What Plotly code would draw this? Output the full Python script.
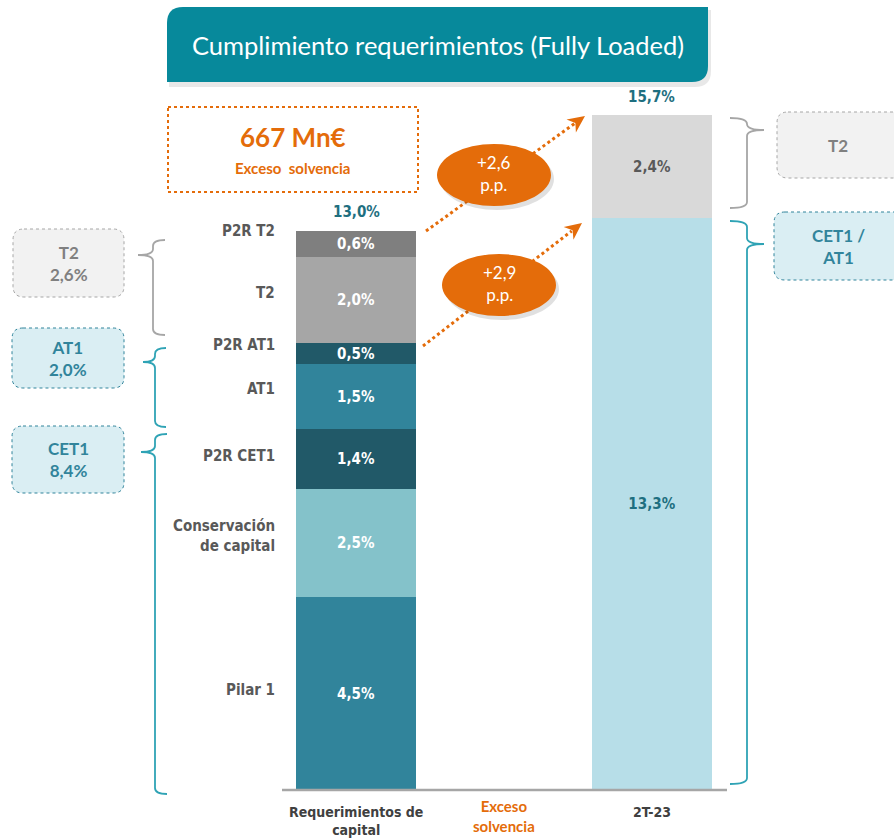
import math
import plotly.graph_objects as go

# ---------------- data ----------------
categories = ["Requerimientos de capital", "Exceso solvencia", "2T-23"]
category_ticks = ["Requerimientos de<br>capital", "Exceso<br>solvencia", "2T-23"]

req_labels = ["Pilar 1", "Conservación<br>de capital", "P2R CET1", "AT1", "P2R AT1", "T2", "P2R T2"]
req_values = [4.5, 2.5, 1.4, 1.5, 0.5, 2.0, 0.6]
req_total = 13.0

act_labels = ["CET1 / AT1", "T2"]
act_values = [13.3, 2.4]
act_total = 15.7

excess_amount = "667 Mn€"
excess_label = "Exceso  solvencia"
pp_changes = [2.6, 2.9]

left_groups = ["T2", "AT1", "CET1"]
left_group_values = [2.6, 2.0, 8.4]
right_groups = ["T2", "CET1 /<br>AT1"]

title_text = "Cumplimiento requerimientos (Fully Loaded)"

# ---------------- styles ----------------
W, H = 894, 838
NARROW = "Liberation Sans Narrow, Arial Narrow, DejaVu Sans Condensed, sans-serif"
CAL = "Lato, Open Sans, sans-serif"
ORANGE = "#E46C0A"
TEAL_TXT = "#1E6F80"
GRAY_TXT = "#595959"
req_colors = ["#31849B", "#84C2CA", "#215968", "#31849B", "#215968", "#A6A6A6", "#7F7F7F"]
act_colors = ["#B7DEE8", "#D9D9D9"]
act_text_colors = [TEAL_TXT, GRAY_TXT]
left_label_shift = [3, 7, 3, 8, 9, 7, 13]

PX_PER_UNIT = 43.0      # pixels per percentage point
BASE_PY = 790           # pixel row of the baseline
X0_PX = 356             # centre of first bar
X_STEP = 147.75         # pixels between categories


def X(px):
    return px / W


def Y(py):
    return 1 - py / H


def fmt(v):
    return f"{v:.1f}".replace(".", ",") + "%"


fig = go.Figure()

# requirement stack
for lab, val, col in zip(req_labels, req_values, req_colors):
    fig.add_trace(go.Bar(
        x=[categories[0]], y=[val], width=120 / X_STEP,
        marker=dict(color=col, line=dict(width=0)),
        text=[f"<b>{fmt(val)}</b>"], textposition="inside", insidetextanchor="middle",
        textfont=dict(color="white", size=15, family=NARROW), constraintext="none",
        hoverinfo="skip", showlegend=False, name=lab.replace("<br>", " ")))

# placeholder for middle category
fig.add_trace(go.Bar(x=[categories[1]], y=[0], width=0.8, marker=dict(color="rgba(0,0,0,0)"),
                     hoverinfo="skip", showlegend=False))

# actual stack
for lab, val, col, tc in zip(act_labels, act_values, act_colors, act_text_colors):
    fig.add_trace(go.Bar(
        x=[categories[2]], y=[val], width=120 / X_STEP,
        marker=dict(color=col, line=dict(width=0)),
        text=[f"<b>{fmt(val)}</b>"], textposition="inside", insidetextanchor="middle",
        textfont=dict(color=tc, size=15, family=NARROW), constraintext="none",
        hoverinfo="skip", showlegend=False, name=lab))

shapes = []
ann = []


def A(**kw):
    kw.setdefault("xanchor", "center")
    kw.setdefault("yanchor", "middle")
    kw.setdefault("showarrow", False)
    ann.append(kw)


# title box with shadow
def rounded_tl_br(x0, y0, x1, y1, r):
    return (f"M {X(x0)},{Y(y0 + r)} Q {X(x0)},{Y(y0)} {X(x0 + r)},{Y(y0)} "
            f"L {X(x1)},{Y(y0)} L {X(x1)},{Y(y1 - r)} Q {X(x1)},{Y(y1)} {X(x1 - r)},{Y(y1)} "
            f"L {X(x0)},{Y(y1)} Z")

shapes.append(dict(type="path", xref="paper", yref="paper",
                   path=rounded_tl_br(169, 10, 711, 87, 16),
                   fillcolor="rgba(0,0,0,0.09)", line=dict(width=0)))
shapes.append(dict(type="path", xref="paper", yref="paper",
                   path=rounded_tl_br(167, 7, 708, 82, 16),
                   fillcolor="#07899B", line=dict(width=0)))
A(x=X(438), y=Y(45), xref="paper", yref="paper", text=title_text,
  font=dict(family=CAL, size=25.5, color="white"))

# excess box
shapes.append(dict(type="rect", xref="paper", yref="paper", x0=X(168), x1=X(418), y0=Y(107), y1=Y(192),
                   line=dict(color=ORANGE, width=2, dash="dot"), fillcolor="white"))
A(x=X(293), y=Y(137), xref="paper", yref="paper", text=f"<b>{excess_amount}</b>",
  font=dict(family=CAL, size=26, color=ORANGE))
A(x=X(292), y=Y(168), xref="paper", yref="paper", text=f"<b>{excess_label}</b>",
  font=dict(family=CAL, size=15, color=ORANGE))

# baseline
shapes.append(dict(type="line", xref="paper", yref="y", x0=X(282), x1=X(727), y0=0, y1=0,
                   line=dict(color="#A6A6A6", width=2.5)))

# totals
A(x=categories[0], y=req_total, xref="x", yref="y", text=f"<b>{fmt(req_total)}</b>",
  yshift=19, font=dict(family=NARROW, size=15, color=TEAL_TXT))
A(x=categories[2], y=act_total, xref="x", yref="y", text=f"<b>{fmt(act_total)}</b>",
  yshift=18, font=dict(family=NARROW, size=15, color=TEAL_TXT))

# left segment labels
cum = 0
for lab, val, sh in zip(req_labels, req_values, left_label_shift):
    mid = cum + val / 2
    cum += val
    A(x=X(277), y=mid, xref="paper", yref="y", text=f"<b>{lab}</b>", xanchor="right",
      align="right", yshift=sh, font=dict(family=NARROW, size=15, color=GRAY_TXT))

# category labels
tick_py = [821, 816, 812]
tick_col = ["#404040", ORANGE, "#404040"]
tick_font = [NARROW, CAL, NARROW]
tick_size = [14, 15, 14]
for c, t, p, col, f, s in zip(categories, category_ticks, tick_py, tick_col, tick_font, tick_size):
    A(x=c, y=Y(p), xref="x", yref="paper", text=f"<b>{t}</b>",
      font=dict(family=f, size=s, color=col))

# braces
def brace(xv, top, bot, tip_y, tip_x, hook_x, color):
    r = 6
    path = (f"M {X(hook_x)},{Y(top)} Q {X(xv)},{Y(top)} {X(xv)},{Y(top + r)} "
            f"L {X(xv)},{Y(tip_y - r)} Q {X(xv)},{Y(tip_y)} {X(tip_x)},{Y(tip_y)} "
            f"Q {X(xv)},{Y(tip_y)} {X(xv)},{Y(tip_y + r)} "
            f"L {X(xv)},{Y(bot - r)} Q {X(xv)},{Y(bot)} {X(hook_x)},{Y(bot)}")
    return dict(type="path", xref="paper", yref="paper", path=path, line=dict(color=color, width=1.8))

BR_GRAY = "#A6A6A6"
BR_TEAL = "#2FA3B5"
shapes.append(brace(153, 240, 335, 255, 138, 165, BR_GRAY))
shapes.append(brace(155, 348, 427, 362, 143, 166, BR_TEAL))
shapes.append(brace(155, 434, 794, 452, 141, 167, BR_TEAL))
shapes.append(brace(747, 118, 208, 130, 764, 730, BR_GRAY))
shapes.append(brace(747, 221, 784, 244, 764, 730, BR_TEAL))

# group boxes
def rbox(x0, y0, x1, y1, r, fill, color):
    path = (f"M {X(x0 + r)},{Y(y0)} L {X(x1 - r)},{Y(y0)} Q {X(x1)},{Y(y0)} {X(x1)},{Y(y0 + r)} "
            f"L {X(x1)},{Y(y1 - r)} Q {X(x1)},{Y(y1)} {X(x1 - r)},{Y(y1)} "
            f"L {X(x0 + r)},{Y(y1)} Q {X(x0)},{Y(y1)} {X(x0)},{Y(y1 - r)} "
            f"L {X(x0)},{Y(y0 + r)} Q {X(x0)},{Y(y0)} {X(x0 + r)},{Y(y0)} Z")
    return dict(type="path", xref="paper", yref="paper", path=path, fillcolor=fill,
                line=dict(color=color, width=1, dash="dot"))

left_boxes = [(13, 229, 124, 297), (12, 328, 124, 388), (12, 426, 124, 493)]
left_fill = ["#F2F2F2", "#DAEEF3", "#DAEEF3"]
left_line = ["#A6A6A6", "#31849B", "#31849B"]
left_txt = ["#808080", "#31849B", "#31849B"]
for (x0, y0, x1, y1), g, v, fl, ln, tc in zip(left_boxes, left_groups, left_group_values,
                                               left_fill, left_line, left_txt):
    shapes.append(rbox(x0, y0, x1, y1, 11, fl, ln))
    A(x=X((x0 + x1) / 2), y=Y((y0 + y1) / 2), xref="paper", yref="paper",
      text=f"<b>{g}<br>{fmt(v)}</b>", font=dict(family=CAL, size=17, color=tc))

right_boxes = [(777, 112, 905, 178), (774, 212, 905, 280)]
right_fill = ["#F2F2F2", "#DAEEF3"]
right_line = ["#A6A6A6", "#31849B"]
right_txt = ["#808080", "#31849B"]
for (x0, y0, x1, y1), g, fl, ln, tc in zip(right_boxes, right_groups, right_fill, right_line, right_txt):
    shapes.append(rbox(x0, y0, x1, y1, 11, fl, ln))
    A(x=X(838), y=Y((y0 + y1) / 2), xref="paper", yref="paper",
      text=f"<b>{g}</b>", font=dict(family=CAL, size=17, color=tc))

# arrows + ellipses
arrows = [((426, 231), (585, 116)), ((423, 346), (582, 223))]
ellipses = [(494, 175), (499, 285)]
RX, RY = 57, 31
for ((sx, sy), (ex, ey)), (cx, cy), pp in zip(arrows, ellipses, pp_changes):
    L = math.hypot(ex - sx, ey - sy)
    ux, uy = (ex - sx) / L, (ey - sy) / L
    nx, ny = -uy, ux
    hl, hw = 17, 8
    bx, by = ex - ux * hl, ey - uy * hl
    shapes.append(dict(type="line", xref="paper", yref="paper", x0=X(sx), y0=Y(sy),
                       x1=X(bx + ux * 4), y1=Y(by + uy * 4),
                       line=dict(color=ORANGE, width=3, dash="dot")))
    nxp, nyp = ex - ux * hl * 0.7, ey - uy * hl * 0.7
    head = (f"M {X(ex)},{Y(ey)} L {X(bx + nx * hw)},{Y(by + ny * hw)} L {X(nxp)},{Y(nyp)} "
            f"L {X(bx - nx * hw)},{Y(by - ny * hw)} Z")
    shapes.append(dict(type="path", xref="paper", yref="paper", path=head,
                       fillcolor=ORANGE, line=dict(width=0)))
    shapes.append(dict(type="circle", xref="paper", yref="paper",
                       x0=X(cx - RX + 3), x1=X(cx + RX + 3), y0=Y(cy - RY + 4), y1=Y(cy + RY + 4),
                       fillcolor="rgba(0,0,0,0.12)", line=dict(width=0)))
    shapes.append(dict(type="circle", xref="paper", yref="paper",
                       x0=X(cx - RX), x1=X(cx + RX), y0=Y(cy - RY), y1=Y(cy + RY),
                       fillcolor=ORANGE, line=dict(width=0)))
    A(x=X(cx), y=Y(cy - 1), xref="paper", yref="paper",
      text=f"+{pp:.1f}".replace(".", ",") + "<br>p.p.",
      font=dict(family=CAL, size=17, color="white"))

fig.update_layout(
    width=W, height=H, barmode="stack",
    margin=dict(l=0, r=0, t=0, b=0),
    paper_bgcolor="white", plot_bgcolor="white",
    xaxis=dict(type="category", categoryorder="array", categoryarray=categories,
               range=[-X0_PX / X_STEP, (W - X0_PX) / X_STEP],
               showticklabels=False, showgrid=False, zeroline=False, showline=False, fixedrange=True),
    yaxis=dict(range=[-(H - BASE_PY) / PX_PER_UNIT, BASE_PY / PX_PER_UNIT],
               showticklabels=False, showgrid=False, zeroline=False, showline=False, fixedrange=True),
    shapes=shapes, annotations=ann, bargap=0,
)

fig.write_html("out.html", config={"displayModeBar": False},
               post_script="document.body.style.margin='0';document.body.style.overflow='hidden';")
